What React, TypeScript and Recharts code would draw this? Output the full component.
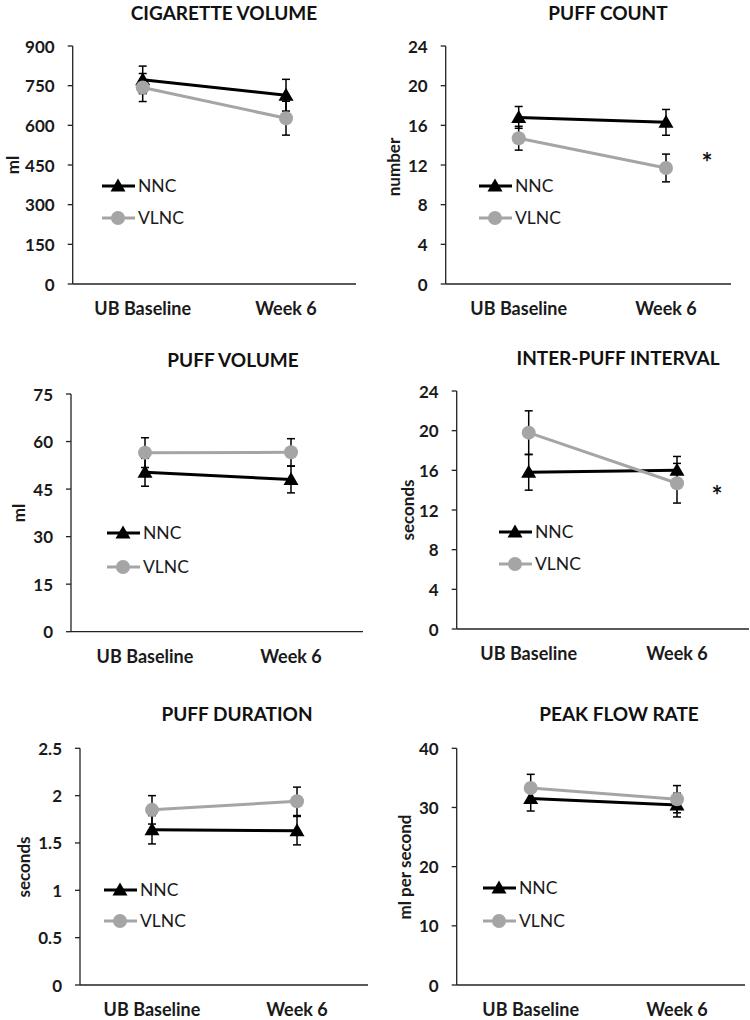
import React from 'react';
import { LineChart, Line, XAxis, YAxis, ErrorBar, Legend } from 'recharts';

// time points (x categories)
const timepoints = ['UB Baseline', 'Week 6'];

// cigarette volume (ml)
const cigVolNNC = [772, 714];
const cigVolNNCErr = [52, 60];
const cigVolVLNC = [743, 627];
const cigVolVLNCErr = [53, 64];
const cigVolTicks = [0, 150, 300, 450, 600, 750, 900];

// puff count (number)
const puffCountNNC = [16.8, 16.3];
const puffCountNNCErr = [1.1, 1.3];
const puffCountVLNC = [14.7, 11.7];
const puffCountVLNCErr = [1.2, 1.4];
const puffCountTicks = [0, 4, 8, 12, 16, 20, 24];

// puff volume (ml)
const puffVolNNC = [50.3, 48.0];
const puffVolNNCErr = [4.4, 4.2];
const puffVolVLNC = [56.5, 56.6];
const puffVolVLNCErr = [4.7, 4.3];
const puffVolTicks = [0, 15, 30, 45, 60, 75];

// inter-puff interval (seconds)
const ipiNNC = [15.8, 16.0];
const ipiNNCErr = [1.8, 1.4];
const ipiVLNC = [19.8, 14.7];
const ipiVLNCErr = [2.2, 2.0];
const ipiTicks = [0, 4, 8, 12, 16, 20, 24];

// puff duration (seconds)
const durNNC = [1.64, 1.63];
const durNNCErr = [0.15, 0.15];
const durVLNC = [1.85, 1.94];
const durVLNCErr = [0.15, 0.15];
const durTicks = [0, 0.5, 1, 1.5, 2, 2.5];

// peak flow rate (ml per second)
const flowNNC = [31.5, 30.4];
const flowNNCErr = [2.1, 2.0];
const flowVLNC = [33.3, 31.4];
const flowVLNCErr = [2.3, 2.3];
const flowTicks = [0, 10, 20, 30, 40];

const FONT = 'Lato, "Open Sans", sans-serif';
const GRAY = '#a5a5a5';
const AXIS = '#222';
const TEXT = '#1a1a1a';
const W = 375;

const buildRows = (nnc: number[], nncErr: number[], vlnc: number[], vlncErr: number[]) =>
  timepoints.map((name, i) => ({ name, nnc: nnc[i], nncErr: nncErr[i], vlnc: vlnc[i], vlncErr: vlncErr[i] }));

const Triangle = (props: any) => {
  const { cx, cy } = props;
  if (cx == null || cy == null) return null;
  return <polygon points={`${cx},${cy - 7.5} ${cx - 7.5},${cy + 5.5} ${cx + 7.5},${cy + 5.5}`} fill="#000" />;
};

const LegendBox = ({ gap }: { gap: number }) => (
  <div style={{ fontFamily: FONT, fontSize: 17.5, color: TEXT }}>
    {[
      { name: 'NNC', color: '#000', tri: true },
      { name: 'VLNC', color: GRAY, tri: false },
    ].map((s, i) => (
      <div key={s.name} style={{ display: 'flex', alignItems: 'center', height: 16, marginTop: i ? gap - 16 : 0 }}>
        <svg width={34} height={16} style={{ display: 'block' }}>
          <line x1={0} y1={8} x2={33} y2={8} stroke={s.color} strokeWidth={3} />
          {s.tri ? (
            <polygon points="16,0.5 8.5,13.5 23.5,13.5" fill="#000" />
          ) : (
            <circle cx={16} cy={8} r={7} fill={GRAY} />
          )}
        </svg>
        <span style={{ marginLeft: 2, lineHeight: '16px' }}>{s.name}</span>
      </div>
    ))}
  </div>
);

interface PanelProps {
  title: string;
  yLabel: string;
  rows: any[];
  ticks: number[];
  left: number;
  top: number;
  height: number;
  axisX: number;
  plotTop: number;
  plotBottom: number;
  plotRight: number;
  padL: number;
  padR: number;
  titleX: number;
  titleY: number;
  labelX: number;
  labelY: number;
  legendX: number;
  legendY: number;
  legendGap: number;
  star?: { x: number; y: number };
}

const Panel: React.FC<PanelProps> = (p) => {
  const yWidth = 50;
  const xHeight = 30;

  const yTick = (t: any) => (
    <text
      x={p.axisX - 18}
      y={t.y}
      textAnchor="end"
      dominantBaseline="central"
      fill={TEXT}
      fontSize={17}
      fontWeight={700}
      fontFamily={FONT}
    >
      {t.payload.value}
    </text>
  );

  const xTick = (t: any) => (
    <text
      x={t.x}
      y={p.plotBottom + 24}
      textAnchor="middle"
      dominantBaseline="central"
      fill={TEXT}
      fontSize={18}
      fontWeight={700}
      fontFamily={FONT}
    >
      {t.payload.value}
    </text>
  );

  return (
    <div style={{ position: 'absolute', left: p.left, top: p.top, width: W, height: p.height }}>
      <LineChart
        width={W}
        height={p.height}
        data={p.rows}
        margin={{ top: p.plotTop, left: p.axisX - yWidth, right: W - p.plotRight, bottom: p.height - p.plotBottom - xHeight }}
      >
        <XAxis
          dataKey="name"
          height={xHeight}
          padding={{ left: p.padL, right: p.padR }}
          tickLine={false}
          axisLine={{ stroke: AXIS, strokeWidth: 1.3 }}
          tick={xTick}
        />
        <YAxis
          width={yWidth}
          domain={[p.ticks[0], p.ticks[p.ticks.length - 1]]}
          ticks={p.ticks}
          interval={0}
          tickSize={5}
          axisLine={{ stroke: AXIS, strokeWidth: 1.3 }}
          tickLine={{ stroke: AXIS, strokeWidth: 1.3 }}
          tick={yTick}
        />
        <Line
          dataKey="nnc"
          stroke="#000"
          strokeWidth={3}
          dot={<Triangle />}
          activeDot={false}
          isAnimationActive={false}
        >
          <ErrorBar dataKey="nncErr" width={4} stroke="#000" strokeWidth={1.5} direction="y" />
        </Line>
        <Line
          dataKey="vlnc"
          stroke={GRAY}
          strokeWidth={3}
          dot={{ r: 7, fill: GRAY, stroke: 'none' }}
          activeDot={false}
          isAnimationActive={false}
        >
          <ErrorBar dataKey="vlncErr" width={4} stroke="#000" strokeWidth={1.5} direction="y" />
        </Line>
        <Legend
          layout="vertical"
          align="center"
          verticalAlign="middle"
          wrapperStyle={{ left: p.legendX, top: p.legendY - 8, width: 100 }}
          content={() => <LegendBox gap={p.legendGap} />}
        />
      </LineChart>
      <div
        style={{
          position: 'absolute', left: p.titleX, top: p.titleY, transform: 'translate(-50%, -50%)',
          fontFamily: FONT, fontWeight: 700, fontSize: 19, color: '#111', whiteSpace: 'nowrap',
        }}
      >
        {p.title}
      </div>
      <div
        style={{
          position: 'absolute', left: p.labelX, top: p.labelY, transform: 'translate(-50%, -50%) rotate(-90deg)',
          fontFamily: FONT, fontWeight: 700, fontSize: 17, color: TEXT, whiteSpace: 'nowrap',
        }}
      >
        {p.yLabel}
      </div>
      {p.star && (
        <div
          style={{
            position: 'absolute', left: p.star.x, top: p.star.y, transform: 'translate(-50%, -35%)',
            fontFamily: FONT, fontWeight: 700, fontSize: 26, color: '#111',
          }}
        >
          *
        </div>
      )}
    </div>
  );
};

export default function App() {
  return (
    <div style={{ position: 'absolute', left: 0, top: 0, width: 750, height: 1020, background: '#fff' }}>
      <Panel
        title="CIGARETTE VOLUME" yLabel="ml"
        rows={buildRows(cigVolNNC, cigVolNNCErr, cigVolVLNC, cigVolVLNCErr)} ticks={cigVolTicks}
        left={0} top={0} height={320}
        axisX={72.7} plotTop={46} plotBottom={284} plotRight={356} padL={70} padR={70}
        titleX={224} titleY={12} labelX={12} labelY={165}
        legendX={102} legendY={186} legendGap={32}
      />
      <Panel
        title="PUFF COUNT" yLabel="number"
        rows={buildRows(puffCountNNC, puffCountNNCErr, puffCountVLNC, puffCountVLNCErr)} ticks={puffCountTicks}
        left={375} top={0} height={320}
        axisX={70.7} plotTop={46} plotBottom={284} plotRight={356} padL={73} padR={65}
        titleX={233} titleY={12} labelX={18} labelY={167}
        legendX={104} legendY={186} legendGap={32}
        star={{ x: 332, y: 157 }}
      />
      <Panel
        title="PUFF VOLUME" yLabel="ml"
        rows={buildRows(puffVolNNC, puffVolNNCErr, puffVolVLNC, puffVolVLNCErr)} ticks={puffVolTicks}
        left={0} top={320} height={350}
        axisX={71} plotTop={74} plotBottom={311.7} plotRight={363} padL={74} padR={72}
        titleX={233} titleY={39} labelX={18} labelY={193}
        legendX={107} legendY={213} legendGap={34}
      />
      <Panel
        title="INTER-PUFF INTERVAL" yLabel="seconds"
        rows={buildRows(ipiNNC, ipiNNCErr, ipiVLNC, ipiVLNCErr)} ticks={ipiTicks}
        left={375} top={320} height={350}
        axisX={81.7} plotTop={71} plotBottom={309} plotRight={374} padL={72} padR={72}
        titleX={243} titleY={37} labelX={32} labelY={190}
        legendX={124} legendY={212} legendGap={32}
        star={{ x: 342, y: 170 }}
      />
      <Panel
        title="PUFF DURATION" yLabel="seconds"
        rows={buildRows(durNNC, durNNCErr, durVLNC, durVLNCErr)} ticks={durTicks}
        left={0} top={670} height={350}
        axisX={80} plotTop={78.3} plotBottom={315} plotRight={368} padL={72} padR={71}
        titleX={237} titleY={43} labelX={23} labelY={197}
        legendX={104} legendY={220} legendGap={31}
      />
      <Panel
        title="PEAK FLOW RATE" yLabel="ml per second"
        rows={buildRows(flowNNC, flowNNCErr, flowVLNC, flowVLNCErr)} ticks={flowTicks}
        left={375} top={670} height={350}
        axisX={81.7} plotTop={78.3} plotBottom={315} plotRight={370} padL={74} padR={68}
        titleX={244} titleY={43} labelX={29} labelY={197}
        legendX={108} legendY={218} legendGap={33}
      />
    </div>
  );
}
